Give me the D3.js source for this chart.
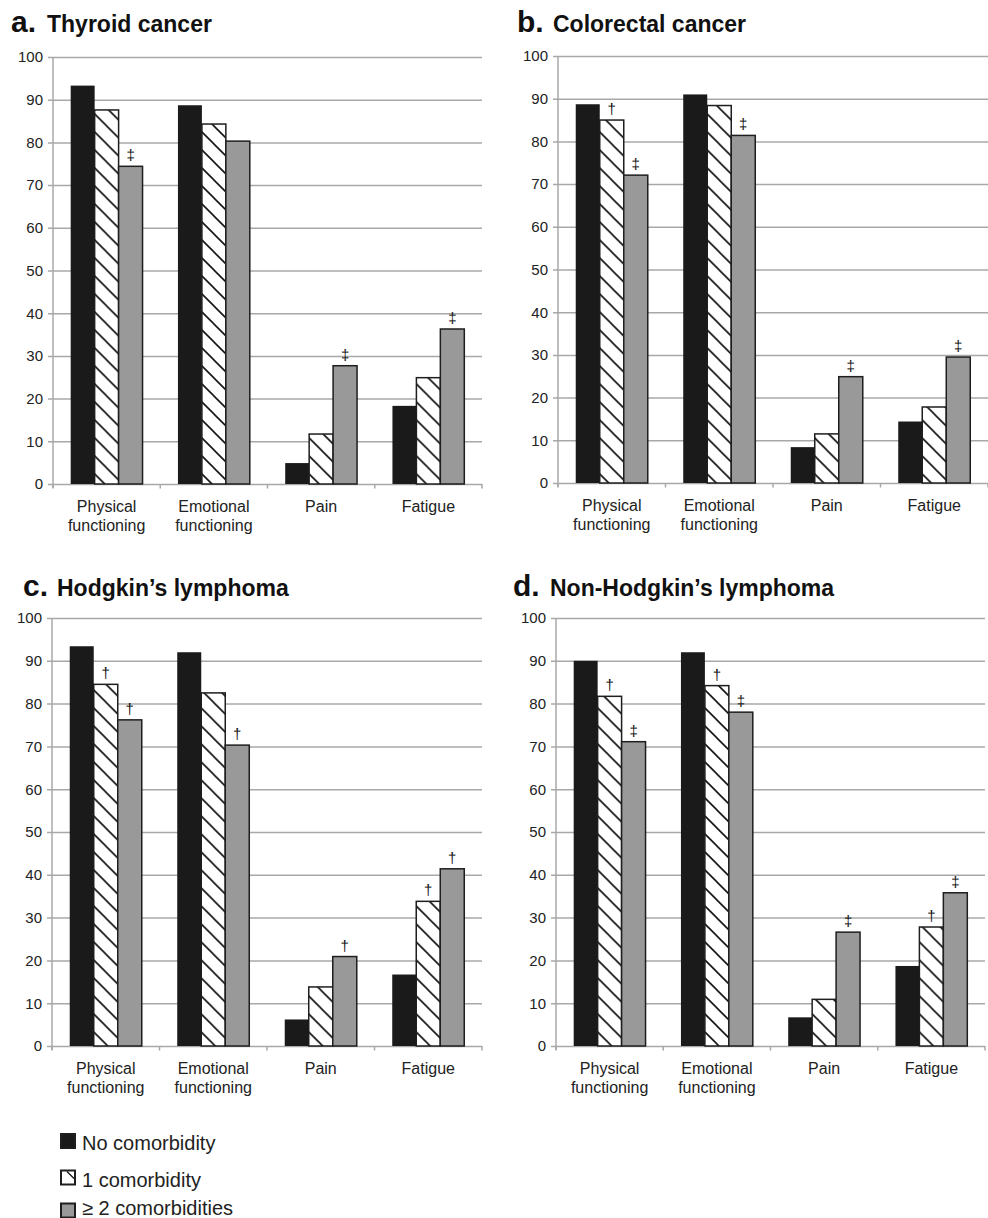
<!DOCTYPE html>
<html>
<head>
<meta charset="utf-8">
<script src="https://cdn.jsdelivr.net/npm/d3@7"></script>
<style>
  html, body { margin: 0; padding: 0; background: #fff; }
  svg { display: block; font-family: "Liberation Sans", Arial, Helvetica, sans-serif; }
</style>
</head>
<body>
<svg id="chart" width="988" height="1218"></svg>
<script>
// ---- data ----
const categories = ["Physical\nfunctioning", "Emotional\nfunctioning", "Pain", "Fatigue"];
const seriesNames = ["No comorbidity", "1 comorbidity", "\u2265 2 comorbidities"];
const yTicks = [0, 10, 20, 30, 40, 50, 60, 70, 80, 90, 100];

const thyroidNone = [93.3, 88.7, 4.9, 18.3];
const thyroidOne  = [87.6, 84.3, 11.7, 24.9];
const thyroidTwo  = [74.4, 80.3, 27.7, 36.3];
const thyroidMarks = [["", "", "\u2021"], ["", "", ""], ["", "", "\u2021"], ["", "", "\u2021"]];

const colorectalNone = [88.7, 91.0, 8.4, 14.4];
const colorectalOne  = [85.0, 88.4, 11.5, 17.8];
const colorectalTwo  = [72.1, 81.4, 24.9, 29.5];
const colorectalMarks = [["", "\u2020", "\u2021"], ["", "", "\u2021"], ["", "", "\u2021"], ["", "", "\u2021"]];

const hodgkinNone = [93.4, 92.0, 6.2, 16.7];
const hodgkinOne  = [84.5, 82.5, 13.8, 33.8];
const hodgkinTwo  = [76.2, 70.3, 20.9, 41.4];
const hodgkinMarks = [["", "\u2020", "\u2020"], ["", "", "\u2020"], ["", "", "\u2020"], ["", "\u2020", "\u2020"]];

const nhlNone = [90.0, 92.0, 6.7, 18.7];
const nhlOne  = [81.7, 84.2, 10.9, 27.8];
const nhlTwo  = [71.1, 78.0, 26.6, 35.8];
const nhlMarks = [["", "\u2020", "\u2021"], ["", "\u2020", "\u2021"], ["", "", "\u2021"], ["", "\u2020", "\u2021"]];

const panelLetters = ["a.", "b.", "c.", "d."];
const panelTitles = ["Thyroid cancer", "Colorectal cancer", "Hodgkin\u2019s lymphoma", "Non-Hodgkin\u2019s lymphoma"];

// ---- layout ----
const layouts = [
  { left: 53,  right: 482, top: 57,  bottom: 484,  letterX: 11,  titleX: 47,  titleY: 32 },
  { left: 558, right: 988, top: 56,  bottom: 483,  letterX: 517, titleX: 553, titleY: 32 },
  { left: 52,  right: 482, top: 618, bottom: 1046, letterX: 23,  titleX: 57,  titleY: 596 },
  { left: 556, right: 985, top: 618, bottom: 1046, letterX: 513, titleX: 550, titleY: 596 }
];
const panelData = [
  [thyroidNone, thyroidOne, thyroidTwo, thyroidMarks],
  [colorectalNone, colorectalOne, colorectalTwo, colorectalMarks],
  [hodgkinNone, hodgkinOne, hodgkinTwo, hodgkinMarks],
  [nhlNone, nhlOne, nhlTwo, nhlMarks]
];

const svg = d3.select("#chart");
const GRID = "#a8a8a8";
const DARK = "#1a1a1a";
const GRAY = "#999999";

const defs = svg.append("defs");
const HS = 18;
const pat = defs.append("pattern")
  .attr("id", "hatch")
  .attr("patternUnits", "userSpaceOnUse")
  .attr("width", HS).attr("height", HS);
pat.append("rect").attr("width", HS).attr("height", HS).attr("fill", "#fff");
pat.append("path")
  .attr("d", `M0,0 L${HS},${HS} M-2,${HS - 2} L2,${HS + 2} M${HS - 2},-2 L${HS + 2},2`)
  .attr("stroke", "#111").attr("stroke-width", 1.6);

const fills = [DARK, "url(#hatch)", GRAY];

panelData.forEach((pd, pi) => {
  const L = layouts[pi];
  const g = svg.append("g");
  const values = [pd[0], pd[1], pd[2]];
  const marks = pd[3];

  const y = d3.scaleLinear().domain([0, 100]).range([L.bottom, L.top]);
  const x0 = d3.scaleBand().domain(categories).range([L.left, L.right])
    .paddingInner(0.33).paddingOuter(0.165);
  const x1 = d3.scaleBand().domain([0, 1, 2]).range([0, x0.bandwidth()]);

  // title
  g.append("text").attr("x", L.letterX).attr("y", L.titleY)
    .attr("font-size", 30).attr("font-weight", "bold").attr("fill", "#111")
    .text(panelLetters[pi]);
  g.append("text").attr("x", L.titleX).attr("y", L.titleY)
    .attr("font-size", 23).attr("font-weight", "bold").attr("fill", "#111")
    .text(panelTitles[pi]);

  // gridlines + y ticks
  const yAxis = d3.axisLeft(y).tickValues(yTicks).tickSize(-(L.right - L.left)).tickPadding(10).tickSizeOuter(0);
  const ya = g.append("g").attr("transform", `translate(${L.left},0)`).call(yAxis);
  ya.attr("font-family", null);
  ya.select(".domain").remove();
  ya.selectAll(".tick line").attr("stroke", GRID).attr("stroke-width", 1.5).attr("x1", -5);
  ya.selectAll(".tick text").attr("font-size", 15).attr("fill", "#222").attr("x", -10);

  // y axis line
  g.append("line").attr("x1", L.left).attr("x2", L.left)
    .attr("y1", y(100)).attr("y2", y(0) + 4)
    .attr("stroke", GRID).attr("stroke-width", 1.5);

  // x boundary ticks
  const step = x0.step();
  const bx = [L.left].concat(categories.slice(1).map(c => x0(c) - step * 0.33 / 2)).concat([L.right]);
  g.selectAll(".xtick").data(bx).enter().append("line")
    .attr("x1", d => d).attr("x2", d => d)
    .attr("y1", y(0)).attr("y2", y(0) + 4.5)
    .attr("stroke", GRID).attr("stroke-width", 1.5);

  // bars
  categories.forEach((c, ci) => {
    const cg = g.append("g").attr("transform", `translate(${x0(c)},0)`);
    [0, 1, 2].forEach(si => {
      const v = values[si][ci];
      cg.append("rect")
        .attr("x", x1(si)).attr("y", y(v))
        .attr("width", x1.bandwidth()).attr("height", y(0) - y(v))
        .attr("fill", fills[si])
        .attr("stroke", si === 0 ? "none" : "#1e1e1e")
        .attr("stroke-width", 1.5);
      const m = marks[ci][si];
      if (m) {
        cg.append("text")
          .attr("x", x1(si) + x1.bandwidth() / 2)
          .attr("y", y(v) - 6)
          .attr("text-anchor", "middle")
          .attr("font-size", 15).attr("fill", "#111")
          .text(m);
      }
    });
  });

  // category labels
  categories.forEach(c => {
    const lines = c.split("\n");
    const t = g.append("text")
      .attr("x", x0(c) + x0.bandwidth() / 2)
      .attr("y", y(0) + 28)
      .attr("text-anchor", "middle")
      .attr("font-size", 16).attr("fill", "#222");
    lines.forEach((ln, li) => {
      t.append("tspan").attr("x", x0(c) + x0.bandwidth() / 2)
        .attr("dy", li === 0 ? 0 : 19).text(ln);
    });
  });
});

// ---- legend ----
const legendY = [1133, 1169.5, 1202.5];
const legendTextY = [1150, 1186.5, 1215];
const lg = svg.append("g");
seriesNames.forEach((s, i) => {
  if (i === 1) {
    lg.append("rect").attr("x", 61).attr("y", legendY[i] + 1)
      .attr("width", 14).attr("height", 14)
      .attr("fill", "#fff").attr("stroke", "#1e1e1e").attr("stroke-width", 2);
    lg.append("line").attr("x1", 67).attr("y1", legendY[i] + 2)
      .attr("x2", 74).attr("y2", legendY[i] + 9)
      .attr("stroke", "#111").attr("stroke-width", 1.3);
  } else {
    lg.append("rect").attr("x", 61).attr("y", legendY[i] + 1)
      .attr("width", 14).attr("height", 14)
      .attr("fill", i === 0 ? DARK : GRAY)
      .attr("stroke", "#1e1e1e").attr("stroke-width", 2);
  }
  lg.append("text").attr("x", 82).attr("y", legendTextY[i])
    .attr("font-size", 20).attr("fill", "#222").text(s);
});
</script>
</body>
</html>
